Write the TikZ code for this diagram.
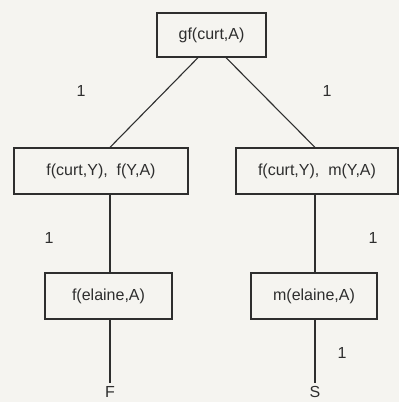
\documentclass[tikz,border=0pt]{standalone}
\usepackage{fontspec}
\setmainfont{Liberation Sans}
\definecolor{paper}{HTML}{F5F4F0}
\definecolor{ink}{HTML}{2E2E2E}
\begin{document}
\begin{tikzpicture}[x=1pt,y=-1pt,
  goal/.style={draw=ink, line width=1.3pt, fill=paper, inner sep=0pt,
    minimum height=46pt, text=ink, font=\fontsize{16}{19}\selectfont},
  edge/.style={draw=ink, line width=1.1pt},
  weight/.style={text=ink, font=\fontsize{16}{19}\selectfont, inner sep=0pt},
  leaf/.style={text=ink, font=\fontsize{16}{19}\selectfont, inner sep=0pt}]
  \fill[paper] (0,0) rectangle (399,402);
  \useasboundingbox (0,0) rectangle (399,402);

  % goal boxes
  \node[goal, minimum width=109pt, minimum height=44pt] (top) at (211.5,35) {gf(curt,A)};
  \node[goal, minimum width=174pt] (lmid) at (101,171) {f(curt,Y),\ \ f(Y,A)};
  \node[goal, minimum width=162pt] (rmid) at (317,171) {f(curt,Y),\ \ m(Y,A)};
  \node[goal, minimum width=127pt] (lbot) at (108.5,296) {f(elaine,A)};
  \node[goal, minimum width=126pt] (rbot) at (314,296) {m(elaine,A)};

  % outcomes
  \node[leaf] (fail) at (110,392) {F};
  \node[leaf] (succ) at (315,392) {S};

  % branches
  \draw[edge] ([xshift=-13.5pt]top.south) -- ([xshift=9pt]lmid.north);
  \draw[edge] ([xshift=14.5pt]top.south) -- ([xshift=-2pt]rmid.north);
  \draw[edge] ([xshift=9pt]lmid.south) -- ([xshift=1.5pt]lbot.north);
  \draw[edge] ([xshift=-2pt]rmid.south) -- ([xshift=1pt]rbot.north);
  \draw[edge] ([xshift=1.5pt]lbot.south) -- ([yshift=3pt]fail.north);
  \draw[edge] ([xshift=1pt]rbot.south) -- ([yshift=3pt]succ.north);

  % branch weights
  \node[weight] (w1) at (81,91) {1};
  \node[weight] (w2) at (327,91) {1};
  \node[weight] (w3) at (49,238) {1};
  \node[weight] (w4) at (373,238) {1};
  \node[weight] (w5) at (342,353) {1};
\end{tikzpicture}
\end{document}
